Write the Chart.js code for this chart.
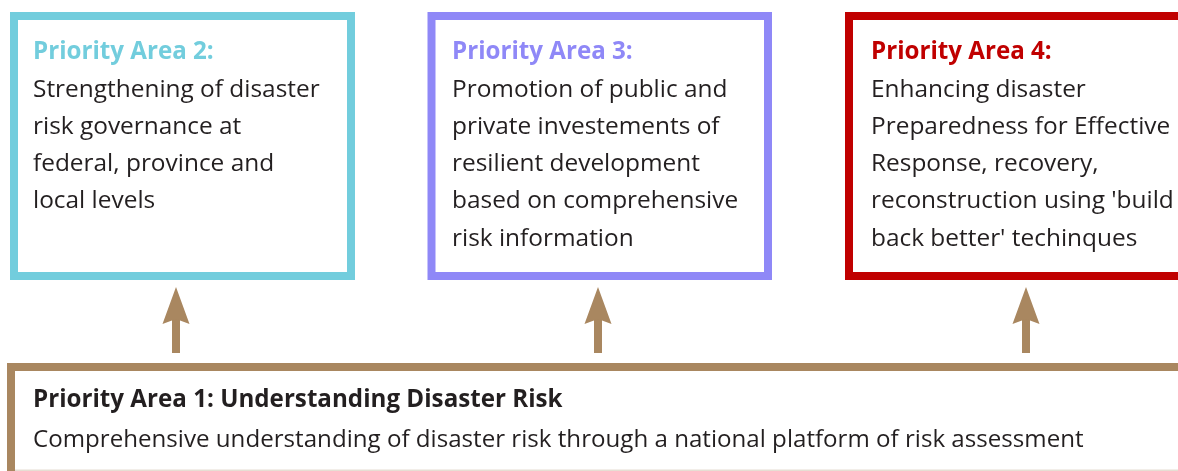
<!DOCTYPE html>
<html>
<head>
<meta charset="utf-8">
<script src="https://cdn.jsdelivr.net/npm/chart.js@4.4.1/dist/chart.umd.min.js"></script>
<style>
  html, body { margin: 0; padding: 0; background: #fff; }
  #wrap { width: 1178px; height: 471px; position: relative; }
</style>
</head>
<body>
<div id="wrap"><canvas id="diagram"></canvas></div>
<script>
// diagram content
const areaTitles = ["Priority Area 2:", "Priority Area 3:", "Priority Area 4:"];
const areaLines = [
  ["Strengthening of disaster", "risk governance at", "federal, province and", "local levels"],
  ["Promotion of public and", "private investements of", "resilient development", "based on comprehensive", "risk information"],
  ["Enhancing disaster", "Preparedness for Effective", "Response, recovery,", "reconstruction using 'build", "back better' techinques"],
];
const baseTitle = "Priority Area 1: Understanding Disaster Risk";
const baseText = "Comprehensive understanding of disaster risk through a national platform of risk assessment";

// colours
const areaColors = ["#72cddd", "#8f88f7", "#c00000"];
const brown = "#a98760";
const textColor = "#231f20";
const FONT = "'Open Sans', 'Noto Sans', sans-serif";

// layout in canvas units (x: 0..1178, y: 0..471 top-down)
const boxes = [
  { x0: 14, x1: 351, y0: 16, y1: 276 },
  { x0: 431.5, x1: 768, y0: 16, y1: 276 },
  { x0: 849, x1: 1200, y0: 16, y1: 276 },
];
const arrowX = [176, 598, 1026];
const textLeft = [33, 452, 871];

// text style: size picked from cap height, horizontal squeeze picked from a reference line width
function makeStyle(ctx, weight, size, sample, target) {
  const font = weight + " " + size + "px " + FONT;
  ctx.font = font;
  return { font, sx: target / ctx.measureText(sample).width };
}

function drawText(ctx, style, text, x, y) {
  ctx.save();
  ctx.font = style.font;
  ctx.translate(x, y);
  ctx.scale(style.sx, 1);
  ctx.fillText(text, 0, 0);
  ctx.restore();
}

const diagramPlugin = {
  id: "diagram",
  afterDatasetsDraw(chart) {
    const { ctx } = chart;
    const X = v => chart.scales.x.getPixelForValue(v);
    const Y = v => chart.scales.y.getPixelForValue(v);

    const titleStyle = makeStyle(ctx, "bold", 25, areaTitles[0], 180.7);
    const bodyStyle = makeStyle(ctx, "normal", 24.5, areaLines[0][0], 286.7);
    const baseTitleStyle = makeStyle(ctx, "bold", 25, baseTitle, 529.6);
    const baseTextStyle = makeStyle(ctx, "normal", 23.5, baseText, 1050.6);

    ctx.save();
    ctx.textBaseline = "alphabetic";
    ctx.textAlign = "left";
    // top boxes
    boxes.forEach((b, i) => {
      ctx.lineWidth = 8;
      ctx.strokeStyle = areaColors[i];
      ctx.strokeRect(X(b.x0), Y(b.y0), X(b.x1) - X(b.x0), Y(b.y1) - Y(b.y0));

      ctx.fillStyle = areaColors[i];
      drawText(ctx, titleStyle, areaTitles[i], X(textLeft[i]), Y(59.3));
      ctx.fillStyle = textColor;
      areaLines[i].forEach((line, j) => {
        drawText(ctx, bodyStyle, line, X(textLeft[i]), Y(96.7 + 37.2 * j));
      });
    });

    // arrows
    ctx.fillStyle = brown;
    arrowX.forEach(ax => {
      ctx.fillRect(X(ax - 4), Y(318), X(ax + 4) - X(ax - 4), Y(353) - Y(318));
      ctx.beginPath();
      ctx.moveTo(X(ax), Y(287));
      ctx.lineTo(X(ax + 13.5), Y(324));
      ctx.lineTo(X(ax), Y(319));
      ctx.lineTo(X(ax - 13.5), Y(324));
      ctx.closePath();
      ctx.fill();
    });

    // base box
    ctx.strokeStyle = brown;
    ctx.lineWidth = 8;
    ctx.beginPath();
    ctx.moveTo(X(1200), Y(367));
    ctx.lineTo(X(11), Y(367));
    ctx.lineTo(X(11), Y(480));
    ctx.stroke();
    ctx.strokeStyle = "#e6ded3";
    ctx.lineWidth = 2;
    ctx.beginPath();
    ctx.moveTo(X(15), Y(470.5));
    ctx.lineTo(X(1178), Y(470.5));
    ctx.stroke();

    ctx.fillStyle = textColor;
    drawText(ctx, baseTitleStyle, baseTitle, X(33), Y(406.7));
    drawText(ctx, baseTextStyle, baseText, X(33), Y(446.7));
    ctx.restore();
  },
};

new Chart(document.getElementById("diagram"), {
  type: "scatter",
  data: { datasets: [{ data: [], pointRadius: 0 }] },
  options: {
    responsive: true,
    maintainAspectRatio: false,
    animation: false,
    events: [],
    layout: { padding: 0 },
    plugins: { legend: { display: false }, tooltip: { enabled: false } },
    scales: {
      x: { type: "linear", min: 0, max: 1178, display: false },
      y: { type: "linear", min: 0, max: 471, reverse: true, display: false },
    },
  },
  plugins: [diagramPlugin],
});
</script>
</body>
</html>
